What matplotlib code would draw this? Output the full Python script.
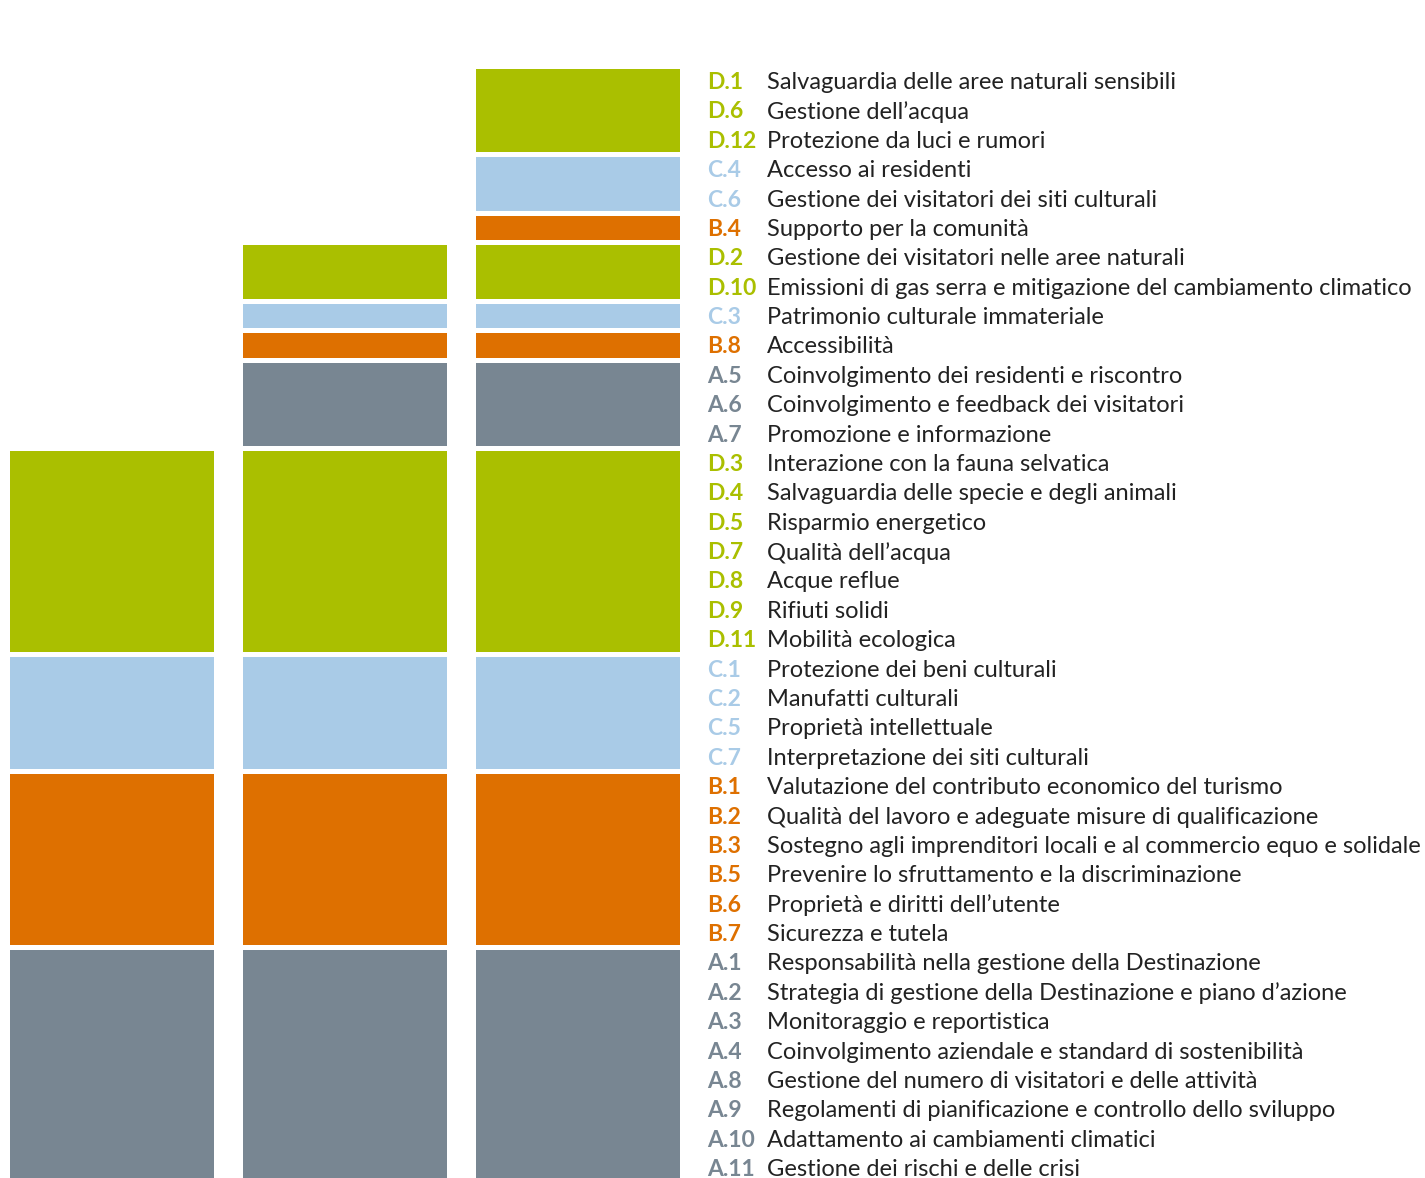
import matplotlib.pyplot as plt
from matplotlib.patches import Rectangle

# colours per pillar
group_colors = {"A": "#788692", "B": "#de7000", "C": "#a9cbe7", "D": "#aabf00"}

# stacked segments per column, bottom to top: (pillar, number of criteria)
col1 = [("A", 8), ("B", 6), ("C", 4), ("D", 7)]
col2 = col1 + [("A", 3), ("B", 1), ("C", 1), ("D", 2)]
col3 = col2 + [("B", 1), ("C", 2), ("D", 3)]
columns = [col1, col2, col3]

# legend list, top to bottom
codes = ["D.1", "D.6", "D.12", "C.4", "C.6", "B.4", "D.2", "D.10", "C.3", "B.8",
         "A.5", "A.6", "A.7", "D.3", "D.4", "D.5", "D.7", "D.8", "D.9", "D.11",
         "C.1", "C.2", "C.5", "C.7", "B.1", "B.2", "B.3", "B.5", "B.6", "B.7",
         "A.1", "A.2", "A.3", "A.4", "A.8", "A.9", "A.10", "A.11"]
descriptions = [
    "Salvaguardia delle aree naturali sensibili",
    "Gestione dell’acqua",
    "Protezione da luci e rumori",
    "Accesso ai residenti",
    "Gestione dei visitatori dei siti culturali",
    "Supporto per la comunità",
    "Gestione dei visitatori nelle aree naturali",
    "Emissioni di gas serra e mitigazione del cambiamento climatico",
    "Patrimonio culturale immateriale",
    "Accessibilità",
    "Coinvolgimento dei residenti e riscontro",
    "Coinvolgimento e feedback dei visitatori",
    "Promozione e informazione",
    "Interazione con la fauna selvatica",
    "Salvaguardia delle specie e degli animali",
    "Risparmio energetico",
    "Qualità dell’acqua",
    "Acque reflue",
    "Rifiuti solidi",
    "Mobilità ecologica",
    "Protezione dei beni culturali",
    "Manufatti culturali",
    "Proprietà intellettuale",
    "Interpretazione dei siti culturali",
    "Valutazione del contributo economico del turismo",
    "Qualità del lavoro e adeguate misure di qualificazione",
    "Sostegno agli imprenditori locali e al commercio equo e solidale",
    "Prevenire lo sfruttamento e la discriminazione",
    "Proprietà e diritti dell’utente",
    "Sicurezza e tutela",
    "Responsabilità nella gestione della Destinazione",
    "Strategia di gestione della Destinazione e piano d’azione",
    "Monitoraggio e reportistica",
    "Coinvolgimento aziendale e standard di sostenibilità",
    "Gestione del numero di visitatori e delle attività",
    "Regolamenti di pianificazione e controllo dello sviluppo",
    "Adattamento ai cambiamenti climatici",
    "Gestione dei rischi e delle crisi",
]

plt.rcParams['font.family'] = ['Lato', 'DejaVu Sans']

W, H = 1425, 1178
fig = plt.figure(figsize=(W / 100, H / 100), dpi=100)
# y: 38 units from pixel 64 down to ~1180
unit = 29.38
top_px = 64
n_rows = len(codes)
bottom_px = top_px + n_rows * unit
ax = fig.add_axes([0, 1 - bottom_px / H, 1, n_rows * unit / H])
ax.set_xlim(-112 / 233, (W - 112) / 233)
ax.set_ylim(0, n_rows)
ax.axis("off")

gap = 5 / unit
bar_w = 204 / 233
for i, col in enumerate(columns):
    base = 0
    for grp, n in col:
        ax.add_patch(Rectangle((i - bar_w / 2, base), bar_w, n - gap,
                               facecolor=group_colors[grp], edgecolor="none"))
        base += n

code_x = (707 - 112) / 233
desc_x = (767 - 112) / 233
for k, (c, d) in enumerate(zip(codes, descriptions)):
    y = n_rows - k - 0.63
    ax.text(code_x, y, c, color=group_colors[c[0]], fontsize=16.5, fontweight="bold",
            va="center", ha="left")
    ax.text(desc_x, y, d, color="#222222", fontsize=17, va="center", ha="left")

fig.savefig("out.png", dpi=100)
